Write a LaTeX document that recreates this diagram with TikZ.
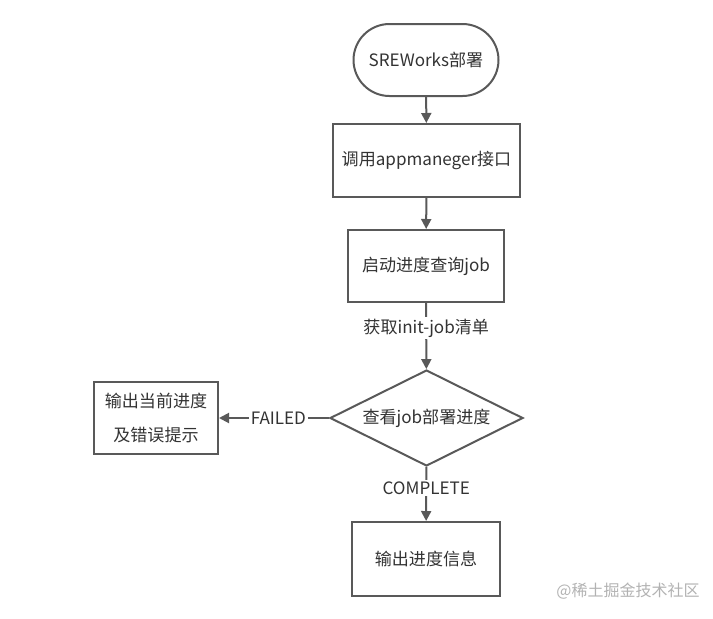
\documentclass[tikz,border=0pt]{standalone}
\usepackage{fontspec}
\setmainfont{Noto Sans CJK SC}
\usetikzlibrary{arrows.meta,shapes.geometric}
\definecolor{ln}{HTML}{595959}
\definecolor{tx}{HTML}{333333}
\begin{document}
\begin{tikzpicture}[x=0.75pt,y=-0.75pt,
  every node/.style={font=\fontsize{12.8pt}{15pt}\selectfont, text=tx},
  boxst/.style={draw=ln, line width=1.5pt, fill=white, inner sep=0pt},
  conn/.style={draw=ln, line width=1.5pt, -{Triangle[length=7.5pt,width=7.5pt]}},
  lab/.style={fill=white, inner sep=1.5pt}]
\useasboundingbox (0,0) rectangle (713,618);
\node[boxst, rounded corners=27pt, minimum width=108.75pt, minimum height=54pt] (t) at (426,60) {SREWorks部署};
\node[boxst, minimum width=140.25pt, minimum height=54.75pt] (b2) at (426.5,160.5) {调用appmaneger接口};
\node[boxst, minimum width=117pt, minimum height=54pt] (b3) at (426,266) {启动进度查询job};
\node[boxst, diamond, aspect=2, minimum width=144.75pt, minimum height=72pt] (d) at (426.5,418) {查看job部署进度};
\node[boxst, minimum width=93pt, minimum height=54pt, align=center, font=\fontsize{12.8pt}{25pt}\selectfont] (l) at (156,418) {输出当前进度\\及错误提示};
\node[boxst, minimum width=111pt, minimum height=55.5pt] (b5) at (426,559) {输出进度信息};
\draw[conn] (t) -- (b2);
\draw[conn] (b2) -- (b3);
\draw[conn] (b3) -- node[lab, pos=0.38] (la) {获取init-job清单} (d);
\draw[conn] (d) -- node[lab, pos=0.46] (lb) {FAILED} (l);
\draw[conn] (d) -- node[lab, pos=0.39] (lc) {COMPLETE} (b5);
\node[font=\fontsize{12pt}{14pt}\selectfont, text=black!30] (wm) at (628,591) {@稀土掘金技术社区};
\end{tikzpicture}
\end{document}
